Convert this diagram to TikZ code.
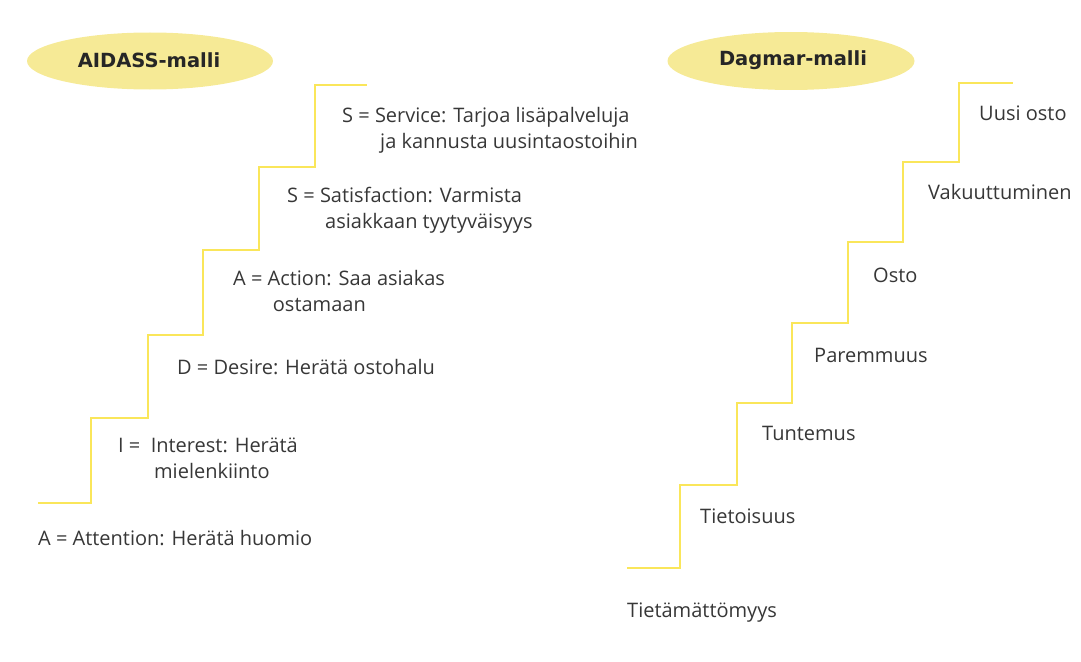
\documentclass[tikz,border=0pt]{standalone}
\usepackage{fontspec}
\setmainfont{Open Sans}
\newfontfamily\titlefont{DejaVu Sans}
\usepackage{tikz}
\definecolor{stairyellow}{RGB}{250,230,90}
\definecolor{ovalyellow}{RGB}{246,234,150}
\definecolor{inkgray}{RGB}{55,55,55}

\begin{document}
\begin{tikzpicture}[x=1pt,y=-1pt,
        stair/.style={draw=stairyellow,line width=2.2pt,line join=miter},
        stepname/.style={anchor=base west,inner sep=0pt,text=inkgray,align=left,
            font=\fontsize{20}{25.5}\selectfont},
        title/.style={anchor=base,inner sep=0pt,text=black!85,font=\titlefont\bfseries\fontsize{19.5}{22}\selectfont}]
        \useasboundingbox (0,0) rectangle (1081,661);
        % ovals with the model names
        \fill[ovalyellow] (150,61) ellipse (123 and 28.5);
        \fill[ovalyellow] (791,61) ellipse (123.5 and 29);
        \node[title] (aidass) at (149,67) {AIDASS-malli};
        \node[title] (dagmar) at (793,66) {Dagmar-malli};
        % left staircase (two-line labels are placed by their last line)
        \draw[stair] (38,503) -- (91,503) -- (91,418) -- (148,418) -- (148,335) -- (203,335)
            -- (203,250) -- (259,250) -- (259,167) -- (315,167) -- (315,85) -- (367,85);
        \node[stepname] (attention) at (38,545) {A = Attention: Herätä huomio};
        \node[stepname] (interest) at (118,478) {I =\ \ Interest: Herätä\\\hphantom{I =\ \ \,}mielenkiinto};
        \node[stepname] (desire) at (177,374) {D = Desire: Herätä ostohalu};
        \node[stepname] (action) at (233,311) {A = Action: Saa asiakas\\\hphantom{A = \ }ostamaan};
        \node[stepname] (satisfaction) at (287,228) {S = Satisfaction: Varmista\\\hphantom{S = \ }asiakkaan tyytyväisyys};
        \node[stepname] (service) at (342,148) {S = Service: Tarjoa lisäpalveluja\\\hphantom{S = \ }ja kannusta uusintaostoihin};
        % right staircase
        \draw[stair] (627,568) -- (680,568) -- (680,485) -- (737,485) -- (737,403) -- (792,403)
            -- (792,323) -- (848,323) -- (848,242) -- (903,242) -- (903,162) -- (959,162)
            -- (959,83) -- (1013,83);
        \node[stepname] (tietamattomyys) at (627,617) {Tietämättömyys};
        \node[stepname] (tietoisuus) at (700,523) {Tietoisuus};
        \node[stepname] (tuntemus) at (762,440) {Tuntemus};
        \node[stepname] (paremmuus) at (814,362) {Paremmuus};
        \node[stepname] (osto) at (873,282) {Osto};
        \node[stepname] (vakuuttuminen) at (928,199) {Vakuuttuminen};
        \node[stepname] (uusiosto) at (979,120) {Uusi osto};
    \end{tikzpicture}
\end{document}
